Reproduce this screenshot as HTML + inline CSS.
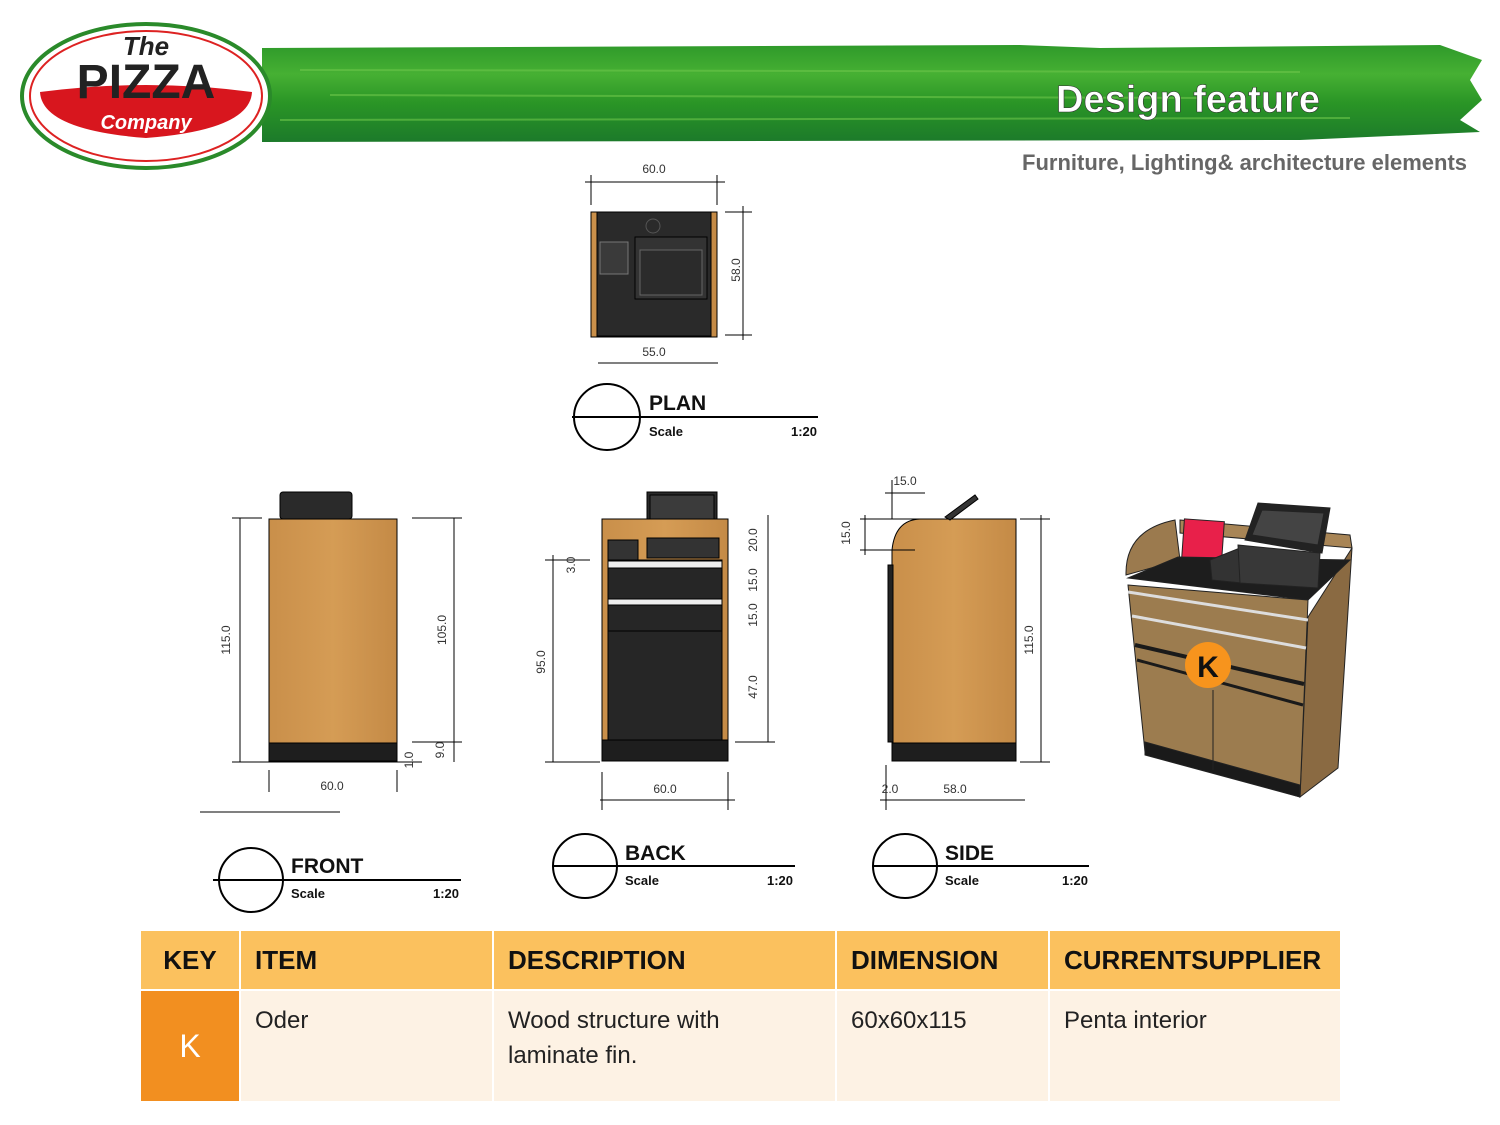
<!DOCTYPE html>
<html><head><meta charset="utf-8"><style>
html,body{margin:0;padding:0;background:#fff;}
body{width:1500px;height:1125px;position:relative;overflow:hidden;font-family:"Liberation Sans",sans-serif;}
svg{position:absolute;left:0;top:0;}
table{position:absolute;left:139px;top:929px;border-collapse:separate;border-spacing:2px;font-family:"Liberation Sans",sans-serif;}
td{padding:0 14px;vertical-align:top;}
.h td{background:#fbc15e;height:58px;vertical-align:middle;font-weight:bold;font-size:26px;color:#111;}
.b td{background:#fdf2e4;height:98px;font-size:24px;color:#222;padding-top:12px;line-height:35px;}
.b td.k{background:#f28f20;color:#fff;text-align:center;vertical-align:middle;padding-top:0;height:110px;font-size:32px;}
</style></head><body>
<svg width="1500" height="1125" viewBox="0 0 1500 1125" font-family="Liberation Sans, sans-serif">
<defs>
<linearGradient id="g" x1="0" y1="0" x2="0" y2="1">
<stop offset="0" stop-color="#2f9a2a"/><stop offset="0.3" stop-color="#46b033"/><stop offset="0.6" stop-color="#2a9526"/><stop offset="1" stop-color="#1c7a2a"/></linearGradient>
<linearGradient id="w" x1="0" y1="0" x2="1" y2="0">
<stop offset="0" stop-color="#c98f4a"/><stop offset="0.5" stop-color="#d59c55"/><stop offset="1" stop-color="#c48a46"/></linearGradient>
</defs>
<path d="M262,48 L1020,45 L1100,48 L1440,45 L1482,60 L1470,80 L1482,100 L1460,120 L1480,132 L1300,140 L262,142 Z" fill="url(#g)"/>
<g stroke="#6cc64a" stroke-width="2" opacity="0.6"><line x1="300" y1="70" x2="1300" y2="72"/><line x1="330" y1="95" x2="1200" y2="98"/><line x1="280" y1="120" x2="1350" y2="118"/></g>
<text x="1188" y="112" text-anchor="middle" font-size="38" font-weight="bold" fill="#fff" stroke="#333" stroke-width="0.6">Design feature</text>
<text x="1467" y="170" text-anchor="end" font-size="22" font-weight="bold" fill="#666">Furniture, Lighting&amp; architecture elements</text>
<ellipse cx="146" cy="96" rx="124" ry="72" fill="#fff" stroke="#2a8a2a" stroke-width="4"/>
<ellipse cx="146" cy="96" rx="116" ry="65" fill="none" stroke="#d22" stroke-width="2"/>
<path d="M40,92 Q146,78 252,92 Q250,130 146,138 Q42,130 40,92Z" fill="#d8161e"/>
<text x="146" y="55" text-anchor="middle" font-size="26" font-weight="bold" font-style="italic" fill="#222">The</text>
<text x="146" y="98" text-anchor="middle" font-size="48" font-weight="bold" fill="#222">PIZZA</text>
<text x="146" y="129" text-anchor="middle" font-size="20" font-style="italic" font-weight="bold" fill="#fff">Company</text>

<g stroke="#000" stroke-width="1" fill="none">
<rect x="591" y="212" width="126" height="125" fill="url(#w)"/>
<rect x="597" y="212" width="114" height="124" fill="#2a2a2a"/>
<rect x="635" y="237" width="72" height="62" fill="#333"/><rect x="640" y="250" width="62" height="45" fill="#2b2b2b" stroke="#666"/>
<rect x="600" y="242" width="28" height="32" fill="#3a3a3a" stroke="#777"/>
<circle cx="653" cy="226" r="7" stroke="#555"/>
<line x1="585" y1="182" x2="725" y2="182"/><line x1="591" y1="175" x2="591" y2="205"/><line x1="717" y1="175" x2="717" y2="205"/>
<line x1="598" y1="363" x2="718" y2="363"/>
<line x1="743" y1="206" x2="743" y2="340"/><line x1="725" y1="212" x2="752" y2="212"/><line x1="725" y1="335" x2="752" y2="335"/>
<circle cx="607" cy="417" r="33" fill="#fff" stroke-width="2"/>
<line x1="572" y1="417" x2="818" y2="417" stroke-width="2"/>
<rect x="280" y="492" width="72" height="27" rx="3" fill="#2a2a2a"/>
<rect x="269" y="519" width="128" height="224" fill="url(#w)"/>
<rect x="269" y="743" width="128" height="18" fill="#1e1e1e"/>
<line x1="240" y1="518" x2="240" y2="762"/><line x1="232" y1="762" x2="422" y2="762"/><line x1="232" y1="518" x2="262" y2="518"/>
<line x1="454" y1="518" x2="454" y2="762"/><line x1="412" y1="518" x2="462" y2="518"/><line x1="412" y1="742" x2="462" y2="742"/>
<line x1="200" y1="812" x2="340" y2="812"/>
<line x1="269" y1="770" x2="269" y2="792"/><line x1="397" y1="770" x2="397" y2="792"/>
<circle cx="251" cy="880" r="32" fill="#fff" stroke-width="2"/>
<line x1="213" y1="880" x2="461" y2="880" stroke-width="2"/>
<rect x="647" y="492" width="70" height="42" fill="#2a2a2a"/><rect x="650" y="495" width="64" height="35" fill="#3b3b3b"/>
<rect x="602" y="519" width="126" height="242" fill="url(#w)"/>
<rect x="608" y="540" width="30" height="28" fill="#333"/><rect x="647" y="538" width="72" height="20" fill="#333"/>
<rect x="608" y="560" width="114" height="200" fill="#262626"/>
<rect x="608" y="561" width="114" height="7" fill="#eee"/><rect x="608" y="599" width="114" height="6" fill="#eee"/>
<line x1="608" y1="631" x2="722" y2="631"/>
<rect x="602" y="740" width="126" height="21" fill="#1e1e1e"/>
<line x1="553" y1="555" x2="553" y2="762"/><line x1="545" y1="762" x2="600" y2="762"/><line x1="545" y1="560" x2="590" y2="560"/>
<line x1="768" y1="515" x2="768" y2="742"/><line x1="735" y1="742" x2="775" y2="742"/>
<line x1="600" y1="800" x2="735" y2="800"/><line x1="602" y1="772" x2="602" y2="810"/><line x1="728" y1="772" x2="728" y2="810"/>
<circle cx="585" cy="866" r="32" fill="#fff" stroke-width="2"/>
<line x1="552" y1="866" x2="795" y2="866" stroke-width="2"/>
<path d="M892,760 L892,550 Q895,520 920,519 L1016,519 L1016,743 L892,743Z" fill="url(#w)"/>
<rect x="892" y="743" width="124" height="18" fill="#1e1e1e"/>
<rect x="888" y="565" width="5" height="177" fill="#222"/>
<path d="M945,517 L975,495 L978,499 L950,520Z" fill="#333"/>
<line x1="1041" y1="515" x2="1041" y2="762"/><line x1="1020" y1="519" x2="1050" y2="519"/><line x1="1020" y1="762" x2="1050" y2="762"/>
<line x1="860" y1="519" x2="935" y2="519"/><line x1="860" y1="550" x2="915" y2="550"/><line x1="865" y1="515" x2="865" y2="555"/>
<line x1="885" y1="493" x2="925" y2="493"/><line x1="892" y1="480" x2="892" y2="519"/>
<line x1="880" y1="800" x2="1025" y2="800"/><line x1="886" y1="765" x2="886" y2="810"/>
<circle cx="905" cy="866" r="32" fill="#fff" stroke-width="2"/>
<line x1="872" y1="866" x2="1089" y2="866" stroke-width="2"/>
</g>
<g font-size="12" fill="#333">
<text x="654" y="173" text-anchor="middle">60.0</text>
<text x="654" y="356" text-anchor="middle">55.0</text>
<text x="740" y="270" transform="rotate(-90 740 270)" text-anchor="middle">58.0</text>
<text x="230" y="640" transform="rotate(-90 230 640)" text-anchor="middle">115.0</text>
<text x="446" y="630" transform="rotate(-90 446 630)" text-anchor="middle">105.0</text>
<text x="332" y="790" text-anchor="middle">60.0</text>
<text x="444" y="750" transform="rotate(-90 444 750)" text-anchor="middle">9.0</text>
<text x="413" y="760" transform="rotate(-90 413 760)" text-anchor="middle">1.0</text>
<text x="545" y="662" transform="rotate(-90 545 662)" text-anchor="middle">95.0</text>
<text x="575" y="565" transform="rotate(-90 575 565)" text-anchor="middle">3.0</text>
<text x="757" y="540" transform="rotate(-90 757 540)" text-anchor="middle">20.0</text>
<text x="757" y="580" transform="rotate(-90 757 580)" text-anchor="middle">15.0</text>
<text x="757" y="615" transform="rotate(-90 757 615)" text-anchor="middle">15.0</text>
<text x="757" y="687" transform="rotate(-90 757 687)" text-anchor="middle">47.0</text>
<text x="665" y="793" text-anchor="middle">60.0</text>
<text x="905" y="485" text-anchor="middle">15.0</text>
<text x="850" y="533" transform="rotate(-90 850 533)" text-anchor="middle">15.0</text>
<text x="1033" y="640" transform="rotate(-90 1033 640)" text-anchor="middle">115.0</text>
<text x="955" y="793" text-anchor="middle">58.0</text>
<text x="890" y="793" text-anchor="middle">2.0</text>
</g>
<g font-weight="bold" fill="#111">
<text x="649" y="410" font-size="21">PLAN</text><text x="649" y="436" font-size="13">Scale</text><text x="817" y="436" font-size="13" text-anchor="end">1:20</text>
<text x="291" y="873" font-size="21">FRONT</text><text x="291" y="898" font-size="13">Scale</text><text x="459" y="898" font-size="13" text-anchor="end">1:20</text>
<text x="625" y="860" font-size="21">BACK</text><text x="625" y="885" font-size="13">Scale</text><text x="793" y="885" font-size="13" text-anchor="end">1:20</text>
<text x="945" y="860" font-size="21">SIDE</text><text x="945" y="885" font-size="13">Scale</text><text x="1088" y="885" font-size="13" text-anchor="end">1:20</text>
</g>
<g stroke="#222" stroke-width="1">
<path d="M1308,617 L1352,548 L1338,768 L1300,797Z" fill="#8a6a42"/>
<path d="M1126,575 Q1125,530 1175,520 L1180,560Z" fill="#9b7a4e"/>
<path d="M1180,520 L1350,535 L1352,548 L1180,533Z" fill="#a88556"/>
<rect x="1183" y="520" width="40" height="45" fill="#e8204a" transform="rotate(4 1200 540)"/>
<path d="M1128,578 L1178,557 L1350,560 L1308,600Z" fill="#1d1d1d"/>
<path d="M1128,585 L1308,600 L1300,797 L1145,752Z" fill="#9c7c4f"/>
<path d="M1145,742 L1300,785 L1300,797 L1145,755Z" fill="#1a1a1a"/>
<path d="M1128,592 L1308,620" stroke="#ddd" stroke-width="3"/>
<path d="M1132,616 L1306,648" stroke="#ddd" stroke-width="3"/>
<path d="M1135,645 L1304,684" stroke="#1a1a1a" stroke-width="4"/>
<path d="M1137,660 L1303,705" stroke="#1a1a1a" stroke-width="3"/>
<line x1="1213" y1="690" x2="1213" y2="770"/>
<path d="M1210,560 L1240,548 L1242,583 L1212,580Z" fill="#333"/>
<path d="M1238,545 L1320,553 L1318,588 L1240,583Z" fill="#383838"/>
<path d="M1245,540 L1258,503 L1330,508 L1322,553Z" fill="#222"/>
<path d="M1252,535 L1262,510 L1324,513 L1318,545Z" fill="#444"/>
</g>
<circle cx="1208" cy="665" r="23" fill="#f7941d"/>
<text x="1208" y="677" text-anchor="middle" font-size="30" font-weight="bold" fill="#111">K</text>
</svg>
<table>
<tr class="h"><td style="width:70px;text-align:center">KEY</td><td style="width:223px">ITEM</td><td style="width:313px">DESCRIPTION</td><td style="width:183px">DIMENSION</td><td style="width:262px">CURRENTSUPPLIER</td></tr>
<tr class="b"><td class="k">K</td><td>Oder</td><td>Wood structure with<br>laminate fin.</td><td>60x60x115</td><td>Penta interior</td></tr>
</table>
</body></html>
